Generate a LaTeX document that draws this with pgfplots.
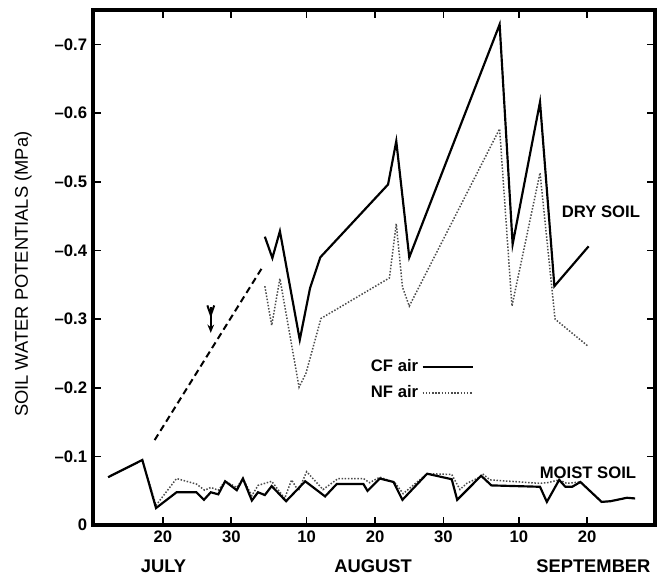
\documentclass[border=0pt]{standalone}
\usepackage{fontspec}
\setmainfont{Liberation Sans}
\usepackage{pgfplots}
\pgfplotsset{compat=1.18}
\usetikzlibrary{arrows.meta}

% x = day counted from 1 July (1 Aug = 32, 1 Sep = 63); y = potential in MPa
\begin{document}
\begin{tikzpicture}
\begin{axis}[
    scale only axis,
    width=337pt, height=309pt,
    xmin=9.8, xmax=91.9,
    ymin=-0.75, ymax=0,
    y dir=reverse,
    clip=false,
    separate axis lines,
    every outer x axis line/.append style={line width=2.2pt, line cap=rect},
    every outer y axis line/.append style={line width=2.2pt, line cap=rect},
    every tick/.style={black, line width=1pt},
    major tick length=5pt,
    xtick={20,30,41,51,61,72,82},
    xticklabels={20,30,10,20,30,10,20},
    ytick={-0.7,-0.6,-0.5,-0.4,-0.3,-0.2,-0.1,0},
    yticklabels={–0.7,–0.6,–0.5,–0.4,–0.3,–0.2,–0.1,0},
    tick label style={font=\bfseries},
    every axis y label/.style={at={(rel axis cs:0,0.5)}, xshift=-42pt, yshift=-4pt, rotate=90, anchor=center},
    ylabel={\fontsize{11}{13}\selectfont SOIL WATER POTENTIALS (MPa)},
    legend plot pos=right,
    legend image code/.code={\draw[#1] (0pt,0pt) -- (30pt,0pt);},
    legend style={draw=none, fill=none, at={(rel axis cs:0.583,0.282)}, anchor=center,
        font=\bfseries, row sep=3pt, inner sep=0pt},
    legend cell align=left,
]
% dry soil
\addplot[black, line width=1.3pt] coordinates {
(34.9,-0.420) (36.0,-0.389) (37.1,-0.428) (40.0,-0.270) (41.5,-0.345) (43.0,-0.390)
(52.9,-0.496) (54.1,-0.559) (56.0,-0.390) (69.2,-0.729) (71.1,-0.409) (75.1,-0.616)
(77.2,-0.348) (82.2,-0.406)};
\addlegendentry{CF air}
\addplot[black!70, line width=0.9pt, densely dotted] coordinates {
(34.9,-0.348) (35.9,-0.291) (37.1,-0.359) (39.9,-0.201) (40.9,-0.221) (43.1,-0.301)
(53.1,-0.360) (54.1,-0.439) (55.0,-0.347) (56.0,-0.319) (69.2,-0.577) (71.0,-0.319)
(75.1,-0.513) (77.3,-0.300) (82.2,-0.260)};
\addlegendentry{NF air}
% moist soil
\addplot[black!70, line width=0.9pt, densely dotted, forget plot] coordinates {
(12.0,-0.070) (17.0,-0.095) (19.0,-0.029) (22.0,-0.068) (24.9,-0.060) (26.1,-0.051)
(27.0,-0.055) (28.1,-0.051) (29.1,-0.064) (30.8,-0.055) (31.7,-0.068) (33.0,-0.043)
(33.9,-0.058) (35.9,-0.064) (37.8,-0.039) (38.8,-0.066) (39.8,-0.050) (41.0,-0.078)
(43.4,-0.052) (45.6,-0.068) (49.3,-0.068) (50.2,-0.062) (51.7,-0.070) (53.9,-0.062)
(55.1,-0.046) (58.6,-0.075) (62.2,-0.074) (63.4,-0.052) (64.4,-0.061) (66.3,-0.070)
(66.8,-0.074) (67.8,-0.066) (75.1,-0.061) (76.2,-0.062) (77.9,-0.066) (79.0,-0.061)
(81.0,-0.063) (84.1,-0.034) (85.4,-0.035) (87.8,-0.040) (89.0,-0.039)};
\addplot[black, line width=1.3pt, forget plot] coordinates {
(12.0,-0.070) (17.0,-0.095) (19.0,-0.025) (22.0,-0.048) (24.9,-0.048) (26.0,-0.037)
(27.0,-0.048) (28.1,-0.045) (29.1,-0.064) (30.8,-0.051) (31.7,-0.068) (33.0,-0.036)
(33.9,-0.048) (34.9,-0.044) (35.9,-0.057) (38.0,-0.035) (40.8,-0.064) (43.7,-0.042)
(45.4,-0.060) (49.3,-0.060) (49.9,-0.050) (51.7,-0.068) (53.7,-0.063) (55.0,-0.037)
(58.6,-0.075) (62.2,-0.067) (63.0,-0.037) (66.5,-0.072) (68.0,-0.058) (75.1,-0.056)
(76.1,-0.034) (77.9,-0.066) (78.8,-0.056) (79.8,-0.056) (81.0,-0.063) (84.1,-0.034)
(85.4,-0.035) (87.8,-0.040) (89.0,-0.039)};
% dashed trend
\addplot[black, line width=1.2pt, dash pattern=on 4pt off 2.5pt, forget plot] coordinates {
(18.8,-0.124) (34.7,-0.378)};

\draw[-{Stealth[length=5pt,width=4pt]}, line width=1.4pt] (axis cs:27,-0.318) -- (axis cs:27,-0.280);
\draw[line width=1.2pt] (axis cs:26.5,-0.320) -- (axis cs:27,-0.306) -- (axis cs:27.5,-0.320);

\node[font=\bfseries] at (axis cs:84.0,-0.456) {DRY SOIL};
\node[font=\bfseries] at (axis cs:82.1,-0.077) {MOIST SOIL};

\node[font=\bfseries\fontsize{11}{13}\selectfont] at (axis cs:20.1,0) [yshift=-24.6pt] {JULY};
\node[font=\bfseries\fontsize{11}{13}\selectfont] at (axis cs:50.7,0) [yshift=-24.6pt] {AUGUST};
\node[font=\bfseries\fontsize{11}{13}\selectfont] at (axis cs:82.9,0) [yshift=-24.6pt] {SEPTEMBER};
\end{axis}
\pgfresetboundingbox
\path[use as bounding box] ([xshift=-55.8pt,yshift=-30pt]current axis.south west)
    rectangle ([xshift=7.8pt,yshift=6pt]current axis.north east);
\end{tikzpicture}
\end{document}
